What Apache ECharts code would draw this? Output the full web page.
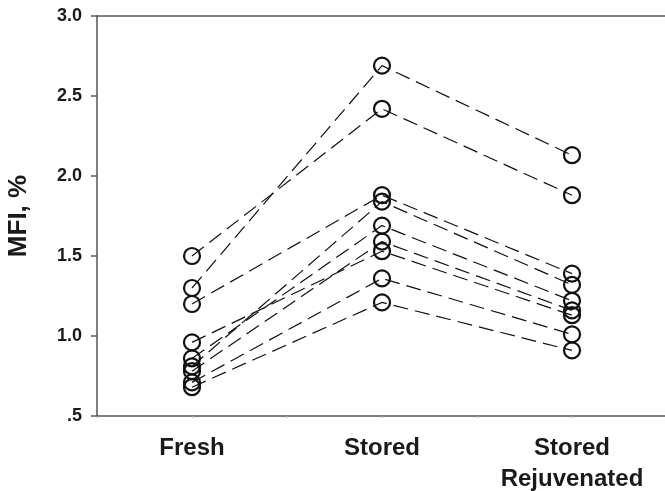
<!DOCTYPE html>
<html>
<head>
<meta charset="utf-8">
<script src="https://cdn.jsdelivr.net/npm/echarts@6/dist/echarts.min.js"></script>
<style>
  html, body { margin: 0; padding: 0; background: #fff; }
  #chart { width: 665px; height: 491px; }
</style>
</head>
<body>
<div id="chart"></div>
<script>
// Condition positions on the x axis and their labels
const conditions = ['Fresh', 'Stored', 'Stored\nRejuvenated'];
const conditionX = [1, 2, 3];

// MFI (%) per unit, one value per condition
const fresh       = [1.30, 1.50, 1.20, 0.86, 0.81, 0.78, 0.96, 0.71, 0.68];
const stored      = [2.69, 2.42, 1.88, 1.69, 1.84, 1.59, 1.53, 1.36, 1.21];
const rejuvenated = [2.13, 1.88, 1.39, 1.22, 1.32, 1.16, 1.13, 1.01, 0.91];

// Y axis tick labels
const yTicks = { 0.5: '.5', 1: '1.0', 1.5: '1.5', 2: '2.0', 2.5: '2.5', 3: '3.0' };

const font = 'Liberation Sans, Arial, Helvetica, sans-serif';

const series = fresh.map((f, i) => ({
  type: 'line',
  xAxisIndex: 0,
  data: [[conditionX[0], f], [conditionX[1], stored[i]], [conditionX[2], rejuvenated[i]]],
  symbol: 'circle',
  symbolSize: 16,
  itemStyle: { color: 'rgba(0,0,0,0)', borderColor: '#111', borderWidth: 2.2 },
  lineStyle: { color: '#111', width: 1.2, type: [15, 7] },
  emphasis: { disabled: true },
  animation: false
}));

const chart = echarts.init(document.getElementById('chart'));
chart.setOption({
  backgroundColor: '#fff',
  animation: false,
  grid: { left: 97, top: 16, bottom: 75, right: -2, outerBoundsMode: 'none', containLabel: false },
  xAxis: [
    {
      type: 'value', min: 0.5, max: 3.5, interval: 0.5,
      position: 'bottom',
      axisLine: { lineStyle: { color: '#555', width: 1.5 } },
      axisTick: { show: true, length: 2, lineStyle: { color: '#bbb' } },
      splitLine: { show: false },
      axisLabel: {
        margin: 17, showMinLabel: true, showMaxLabel: true,
        color: '#1a1a1a', fontFamily: font, fontWeight: 'bold', fontSize: 24, lineHeight: 31,
        formatter: v => { const k = conditionX.indexOf(v); return k >= 0 ? conditions[k] : ''; }
      }
    },
    {
      type: 'value', min: 0.5, max: 3.5, position: 'top',
      axisLine: { show: true, lineStyle: { color: '#555', width: 1.5 } },
      axisTick: { show: false }, axisLabel: { show: false }, splitLine: { show: false }
    }
  ],
  yAxis: {
    type: 'value', min: 0.5, max: 3.0, interval: 0.5,
    name: 'MFI, %', nameLocation: 'middle', nameGap: 65, nameRotate: 90,
    nameTextStyle: { color: '#1a1a1a', fontFamily: font, fontWeight: 'bold', fontSize: 26 },
    axisLine: { show: true, lineStyle: { color: '#555', width: 1.5 } },
    axisTick: { show: true, length: 6, lineStyle: { color: '#555', width: 1.5 } },
    splitLine: { show: false },
    axisLabel: {
      margin: 15, color: '#1a1a1a', fontFamily: font, fontWeight: 'bold', fontSize: 18,
      formatter: v => yTicks[v] || ''
    }
  },
  series: series
});
</script>
</body>
</html>
